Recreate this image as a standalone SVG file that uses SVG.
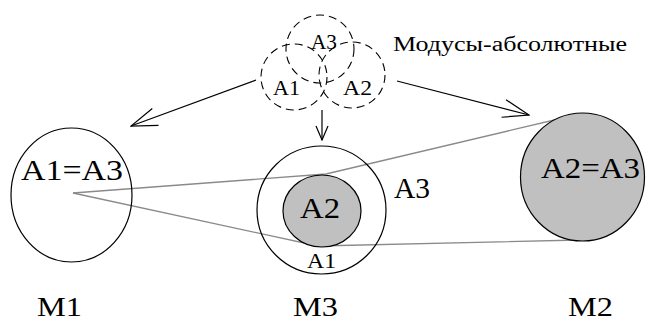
<svg xmlns="http://www.w3.org/2000/svg" width="648" height="322" viewBox="0 0 648 322" font-family="'Liberation Serif', 'DejaVu Serif', serif">
<style>
.c{fill:none;stroke:#000;stroke-width:1.2}
.g{fill:#c0c0c0;stroke:#000;stroke-width:1.2}
.d{fill:none;stroke:#000;stroke-width:1.1;stroke-dasharray:8 5}
.l{fill:none;stroke:#8a8a8a;stroke-width:1.3}
.a{fill:none;stroke:#000;stroke-width:1.2}
text{fill:#000}
.big{font-size:30px}
.m{font-size:27px}
.s{font-size:21px}
</style>
<defs>
<marker id="ah" markerUnits="userSpaceOnUse" markerWidth="28" markerHeight="22" viewBox="0 0 28 22" refX="27" refY="11" orient="auto">
<path d="M1,2 L27,11 L1,20" fill="none" stroke="#000" stroke-width="1.2"/>
</marker>
<marker id="ahs" markerUnits="userSpaceOnUse" markerWidth="16" markerHeight="14" viewBox="0 0 16 14" refX="15" refY="7" orient="auto">
<path d="M1,1 L15,7 L1,13" fill="none" stroke="#000" stroke-width="1.2"/>
</marker>
</defs>
<rect width="648" height="322" fill="#fff"/>
<g id="connectors">
<polyline class="l" points="73,193 326,174 567,117"/>
<polyline class="l" points="73,193 318,246 580,240"/>
<line class="a" x1="256" y1="80" x2="131" y2="126" marker-end="url(#ah)"/>
<line class="a" x1="397" y1="81" x2="529" y2="115" marker-end="url(#ah)"/>
<line class="a" x1="322" y1="110" x2="322" y2="140" marker-end="url(#ahs)"/>
</g>
<g id="modes">
<circle class="d" cx="320" cy="49" r="34"/>
<circle class="d" cx="294" cy="77" r="33"/>
<circle class="d" cx="352" cy="75" r="33"/>
<text class="s" x="311" y="49" textLength="26" lengthAdjust="spacingAndGlyphs">A3</text>
<text class="s" x="273" y="95" textLength="27" lengthAdjust="spacingAndGlyphs">A1</text>
<text class="s" x="343" y="95" textLength="29" lengthAdjust="spacingAndGlyphs">A2</text>
<text x="393" y="51" font-size="20" textLength="234" lengthAdjust="spacingAndGlyphs">Модусы-абсолютные</text>
</g>
<g id="M1">
<ellipse class="c" cx="71.5" cy="195" rx="60.5" ry="67"/>
<text class="big" x="21" y="180" textLength="102" lengthAdjust="spacingAndGlyphs">A1=A3</text>
<text class="m" x="37" y="316" textLength="45" lengthAdjust="spacingAndGlyphs">M1</text>
</g>
<g id="M3">
<ellipse class="c" cx="321.5" cy="210" rx="64.5" ry="64"/>
<ellipse class="g" cx="322" cy="211" rx="39" ry="36"/>
<text class="big" x="300" y="218" textLength="40" lengthAdjust="spacingAndGlyphs">A2</text>
<text x="307" y="268" font-size="22" textLength="29" lengthAdjust="spacingAndGlyphs">A1</text>
<text class="big" x="394" y="198" textLength="36" lengthAdjust="spacingAndGlyphs">A3</text>
<text class="m" x="293" y="316" textLength="45" lengthAdjust="spacingAndGlyphs">M3</text>
</g>
<g id="M2">
<ellipse class="g" cx="582.5" cy="177" rx="62" ry="64"/>
<text class="big" x="541" y="178" textLength="99" lengthAdjust="spacingAndGlyphs">A2=A3</text>
<text class="m" x="568" y="316" textLength="45" lengthAdjust="spacingAndGlyphs">M2</text>
</g>
</svg>
